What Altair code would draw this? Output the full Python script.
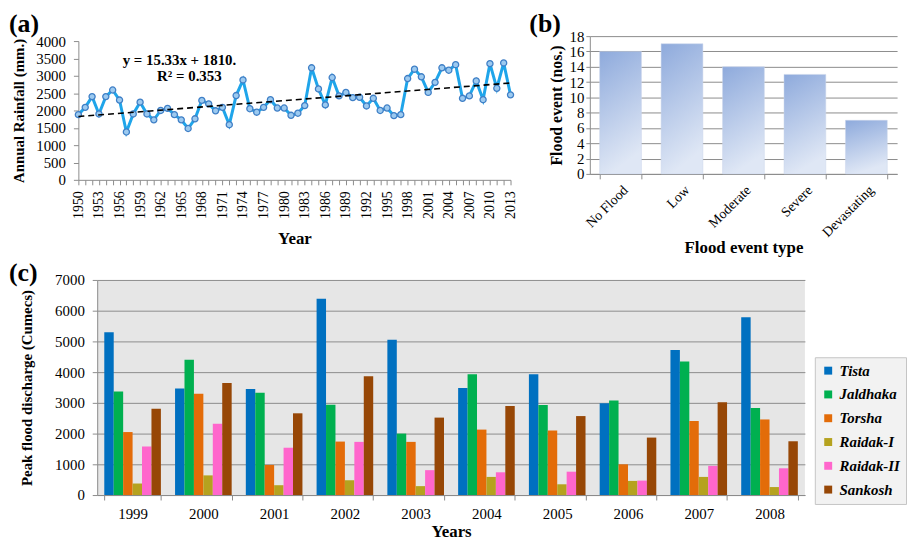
import altair as alt
import pandas as pd

SERIF = "Liberation Serif"

# ---------------- Panel (a): annual rainfall ----------------
rain_years = list(range(1950, 2014))
rain_values = [1880, 2090, 2400, 1900, 2400, 2590, 2300, 1380, 1900, 2240,
               1900, 1730, 2000, 2060, 1880, 1730, 1480, 1760, 2290, 2190,
               1990, 2090, 1590, 2430, 2880, 2050, 1950, 2090, 2310, 2070,
               2070, 1860, 1920, 2140, 3230, 2620, 2160, 2950, 2420, 2520,
               2370, 2380, 2130, 2350, 2000, 2070, 1850, 1880, 2920, 3190,
               2970, 2520, 2810, 3230, 3160, 3320, 2350, 2420, 2850, 2310,
               3350, 2640, 3370, 2450]
trend_years = [1950, 2013]
trend_values = [1825, 2791]
eq_lines = ["y = 15.33x + 1810.", "R² = 0.353"]

# ---------------- Panel (b): flood events ----------------
flood_types = ["No Flood", "Low", "Moderate", "Severe", "Devastating"]
flood_counts = [16, 17, 14, 13, 7]

# ---------------- Panel (c): peak discharge ----------------
c_years = ["1999", "2000", "2001", "2002", "2003", "2004", "2005", "2006", "2007", "2008"]
rivers = ["Tista", "Jaldhaka", "Torsha", "Raidak-I", "Raidak-II", "Sankosh"]
river_colors = ["#0070c0", "#00b050", "#e36c09", "#b5a21f", "#ff66cc", "#974706"]
tista = [5300, 3470, 3450, 6390, 5050, 3480, 3930, 2990, 4720, 5790]
jaldhaka = [3370, 4400, 3330, 2940, 2000, 3930, 2930, 3080, 4350, 2830]
torsha = [2050, 3300, 980, 1740, 1730, 2130, 2100, 1000, 2410, 2460]
raidak1 = [375, 640, 320, 480, 290, 590, 350, 460, 590, 260]
raidak2 = [1580, 2320, 1540, 1730, 810, 740, 760, 470, 950, 870]
sankosh = [2810, 3650, 2660, 3870, 2520, 2900, 2570, 1870, 3020, 1750]

panel_labels = ["(a)", "(b)", "(c)"]

AX_GRAY = "#8c8c8c"


def label_mark(txt, px, py):
    return alt.Chart(pd.DataFrame({"t": [txt]})).mark_text(
        align="left", baseline="top", font=SERIF, fontSize=26, fontWeight="bold",
        color="black").encode(x=alt.value(px), y=alt.value(py), text="t:N")


def spacer():
    # tiny invisible cell used only to steer the concat layout
    return alt.Chart(pd.DataFrame({"v": [0]})).mark_point(
        size=0, opacity=0, filled=True).encode(
        x=alt.value(0), y=alt.value(0)).properties(width=1, height=1)


# ---- (a)
df_rain = pd.DataFrame({"year": rain_years, "rain": rain_values})
df_trend = pd.DataFrame({"year": trend_years, "rain": trend_values})

xa = alt.X("year:Q",
           scale=alt.Scale(domain=[1950, 2013], nice=False, zero=False),
           axis=alt.Axis(values=rain_years,
                         labelExpr="(datum.value - 1950) % 3 == 0 ? format(datum.value, 'd') : ''",
                         labelAngle=270, labelFont=SERIF, labelFontSize=14, labelColor="black",
                         labelOverlap=False, labelFlush=False, labelPadding=6,
                         tickSize=5, tickColor=AX_GRAY, domainColor=AX_GRAY, grid=False,
                         title="Year", titleFont=SERIF, titleFontSize=17, titleFontWeight="bold",
                         titleColor="black", titlePadding=12))
ya = alt.Y("rain:Q",
           scale=alt.Scale(domain=[0, 4000], nice=False),
           axis=alt.Axis(values=list(range(0, 4001, 500)), format="d",
                         labelFont=SERIF, labelFontSize=15, labelOverlap=False,
                         labelColor="black", tickSize=5, tickColor=AX_GRAY, domainColor=AX_GRAY,
                         grid=False, labelPadding=8,
                         title="Annual Rainfall (mm.)", titleFont=SERIF, titleFontSize=15,
                         titleFontWeight="bold", titleColor="black", titlePadding=9))

base_a = alt.Chart(df_rain).encode(x=xa, y=ya)
a_line = base_a.mark_line(color="#1fa5ea", strokeWidth=3)
a_pts = base_a.mark_point(filled=True, fill="#9ccaf0", stroke="#3f7fc6",
                          strokeWidth=1.3, size=38, opacity=1)
a_trend = alt.Chart(df_trend).mark_line(color="black", strokeDash=[6, 4], strokeWidth=1.6).encode(
    x=xa, y=ya)
a_eq1 = alt.Chart(pd.DataFrame({"t": [eq_lines[0]]})).mark_text(
    font=SERIF, fontSize=15, fontWeight="bold", color="black").encode(
    x=alt.value(102), y=alt.value(19), text="t:N")
a_eq2 = alt.Chart(pd.DataFrame({"t": [eq_lines[1]]})).mark_text(
    font=SERIF, fontSize=15, fontWeight="bold", color="black").encode(
    x=alt.value(112), y=alt.value(35), text="t:N")

panel_a = alt.layer(a_line, a_pts, a_trend, a_eq1, a_eq2,
                    label_mark(panel_labels[0], -70, -30)).properties(width=436, height=140)

# ---- (b)
df_flood = pd.DataFrame({"type": flood_types, "count": flood_counts})
grad = alt.Gradient(gradient="linear",
                    stops=[alt.GradientStop(color="#8eaadc", offset=0),
                           alt.GradientStop(color="#dfe7f5", offset=1)],
                    x1=0, y1=0, x2=0.25, y2=1)
b_bars = alt.Chart(df_flood).mark_bar(color=grad, stroke="#c9d5ea", strokeWidth=0.5).encode(
    x=alt.X("type:N", sort=flood_types,
            scale=alt.Scale(paddingInner=0.32, paddingOuter=0.16),
            axis=alt.Axis(labelAngle=315, labelFont=SERIF, labelFontSize=14, labelColor="black",
                          tickBand="extent", tickSize=5, tickColor=AX_GRAY, domainColor=AX_GRAY,
                          labelPadding=4, labelOverlap=False,
                          title="Flood event type", titleFont=SERIF, titleFontSize=17,
                          titleFontWeight="bold", titleColor="black", titlePadding=0)),
    y=alt.Y("count:Q", scale=alt.Scale(domain=[0, 18], nice=False),
            axis=alt.Axis(values=list(range(0, 19, 2)), grid=True, gridColor=AX_GRAY,
                          labelFont=SERIF, labelFontSize=15, labelColor="black", labelOverlap=False,
                          tickSize=4, tickColor=AX_GRAY, domainColor=AX_GRAY, labelPadding=2,
                          title="Flood event (nos.)", titleFont=SERIF, titleFontSize=16,
                          titleFontWeight="bold", titleColor="black", titlePadding=5)),
)
panel_b = alt.layer(b_bars, label_mark(panel_labels[1], -61, -25)).properties(width=310, height=139)

a_col = alt.concat(spacer(), panel_a, columns=1, spacing=0)
b_col = alt.concat(spacer(), panel_b, columns=1, spacing=0)
ab = alt.concat(a_col, b_col, columns=2, spacing=12)
top = alt.concat(spacer(), ab, columns=2, spacing=0)

# ---- (c)
rows = []
series = [tista, jaldhaka, torsha, raidak1, raidak2, sankosh]
for r, vals in zip(rivers, series):
    for y, v in zip(c_years, vals):
        rows.append({"year": y, "river": r, "q": v})
df_c = pd.DataFrame(rows)

c_bars = alt.Chart(df_c).mark_bar().encode(
    x=alt.X("year:N", sort=c_years,
            scale=alt.Scale(paddingInner=0.2, paddingOuter=0.1),
            axis=alt.Axis(labelAngle=0, labelFont=SERIF, labelFontSize=15, labelColor="black",
                          tickBand="extent", tickSize=5, tickColor=AX_GRAY, domainColor=AX_GRAY,
                          labelPadding=7,
                          title="Years", titleFont=SERIF, titleFontSize=17, titleFontWeight="bold",
                          titleColor="black", titlePadding=2)),
    xOffset=alt.XOffset("river:N", sort=rivers,
                        scale=alt.Scale(paddingInner=0, paddingOuter=0)),
    y=alt.Y("q:Q", scale=alt.Scale(domain=[0, 7000], nice=False),
            axis=alt.Axis(values=list(range(0, 7001, 1000)), format="d", grid=True,
                          gridColor=AX_GRAY, labelOverlap=False,
                          labelFont=SERIF, labelFontSize=15, labelColor="black",
                          tickSize=5, tickColor=AX_GRAY, domainColor=AX_GRAY, labelPadding=8,
                          title="Peak  flood discharge (Cumecs)", titleFont=SERIF, titleFontSize=15,
                          titleFontWeight="bold", titleColor="black", titlePadding=20)),
    color=alt.Color("river:N", sort=rivers,
                    scale=alt.Scale(domain=rivers, range=river_colors),
                    legend=alt.Legend(orient="none", legendX=724, legendY=78, title=None,
                                      symbolType="square", symbolSize=64, symbolStrokeWidth=0,
                                      labelFont=SERIF, labelFontSize=15, labelFontStyle="italic",
                                      labelFontWeight="bold", labelColor="black",
                                      fillColor="#f2f2f2", strokeColor="#c4c4c4",
                                      padding=6, rowPadding=8, labelOffset=4, labelLimit=0)),
)
panel_c = alt.layer(c_bars, label_mark(panel_labels[2], -89, -20)).properties(
    width=714, height=217,
    view=alt.ViewBackground(fill="#e6e6e6", stroke=None))

bottom = alt.concat(spacer(), panel_c, columns=2, spacing=0).resolve_scale(
    color="independent").resolve_legend(color="independent")

chart = alt.concat(top, bottom, columns=1, spacing=4).resolve_scale(
    color="independent").resolve_legend(color="independent").properties(
    padding={"left": 0, "top": 0, "right": 0, "bottom": 0}
).configure_view(stroke=None).configure_axis(
    labelFont=SERIF, labelColor="black", titleFont=SERIF)

chart.save("out.html", embed_options={"renderer": "svg", "actions": False})
